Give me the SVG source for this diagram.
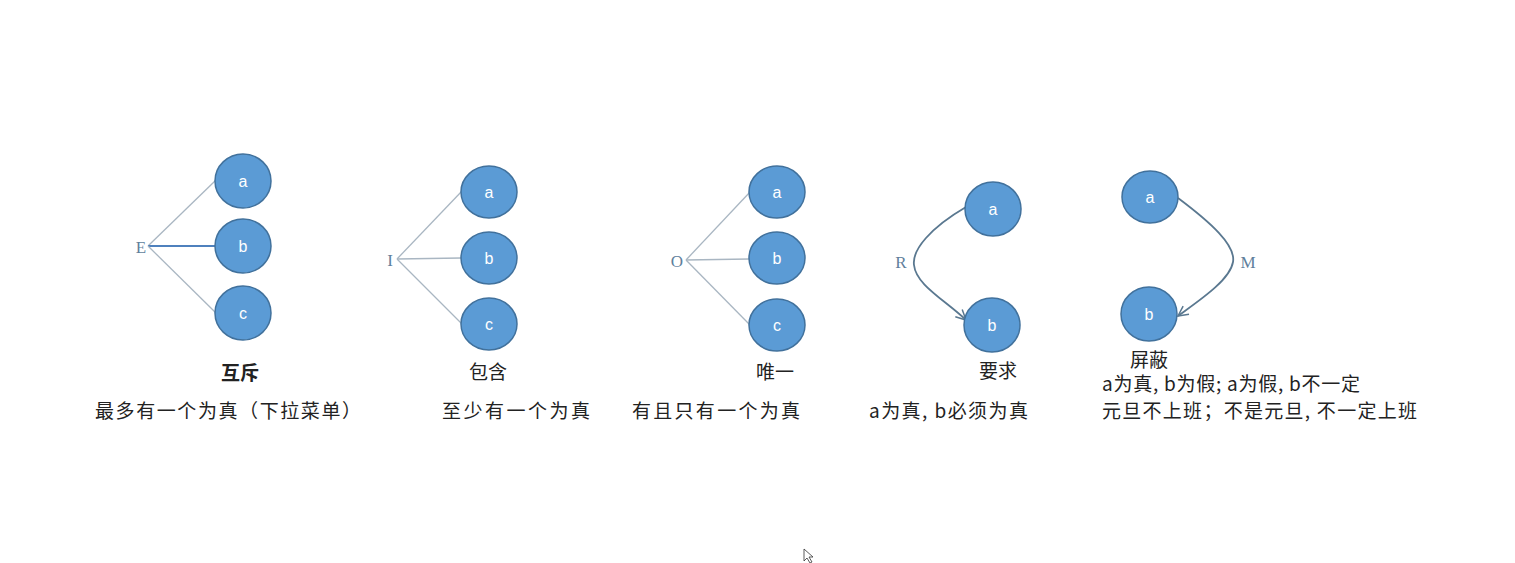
<svg xmlns="http://www.w3.org/2000/svg" width="1515" height="563" viewBox="0 0 1515 563">
<style>
.n{fill:#5b9bd5;stroke:#41719c;stroke-width:1.5}
.nt{font-family:"Liberation Sans",Arial,sans-serif;font-size:16px;fill:#ffffff;text-anchor:middle}
.lb{font-family:"Liberation Serif","Noto Sans CJK SC",serif;font-size:17px;fill:#5f7f9c;text-anchor:middle}
.ln{stroke:#a9b6c2;stroke-width:1.3;fill:none}
.lnb{stroke:#4f81bd;stroke-width:1.8;fill:none}
.cv{stroke:#5a7890;stroke-width:1.8;fill:none}
.t{font-family:"Noto Sans CJK SC",sans-serif;font-size:19px;fill:#222222}
.tc{text-anchor:middle}
</style>
<defs>
<marker id="ah" viewBox="0 0 12 12" refX="11" refY="6" markerWidth="12" markerHeight="12" markerUnits="userSpaceOnUse" orient="auto">
<path d="M1,1 L11,6 L1,11" fill="none" stroke="#5a7890" stroke-width="1.5"/>
</marker>
</defs>
<rect width="1515" height="563" fill="#ffffff"/>
<g id="connectors">
<line class="ln" x1="148" y1="246" x2="216" y2="180"/>
<line class="lnb" x1="148" y1="246" x2="215" y2="246"/>
<line class="ln" x1="148" y1="246" x2="216" y2="313"/>
<line class="ln" x1="397" y1="259" x2="462" y2="191"/>
<line class="ln" x1="397" y1="259" x2="461" y2="258"/>
<line class="ln" x1="397" y1="259" x2="462" y2="324"/>
<line class="ln" x1="686" y1="260" x2="750" y2="192"/>
<line class="ln" x1="686" y1="260" x2="749" y2="259"/>
<line class="ln" x1="686" y1="260" x2="750" y2="325"/>
<path class="cv" d="M966,207 C930,228 912,250 914,265 C916,285 945,300 966,320" marker-end="url(#ah)"/>
<path class="cv" d="M1178,198 C1210,222 1236,245 1233,262 C1230,280 1200,300 1178,316" marker-end="url(#ah)"/>
</g>
<g id="E">
<text class="lb" x="141" y="253">E</text>
<ellipse class="n" cx="243" cy="181" rx="28" ry="27"/><text class="nt" x="243" y="187">a</text>
<ellipse class="n" cx="243" cy="246" rx="28" ry="27"/><text class="nt" x="243" y="252">b</text>
<ellipse class="n" cx="243" cy="313" rx="28" ry="27"/><text class="nt" x="243" y="319">c</text>
<text class="t tc" x="240" y="380" font-weight="bold">互斥</text>
<text class="t" x="95" y="418" textLength="266" lengthAdjust="spacing">最多有一个为真（下拉菜单）</text>
</g>
<g id="I">
<text class="lb" x="390" y="266">I</text>
<ellipse class="n" cx="489" cy="192" rx="28" ry="26"/><text class="nt" x="489" y="198">a</text>
<ellipse class="n" cx="489" cy="258" rx="28" ry="26"/><text class="nt" x="489" y="264">b</text>
<ellipse class="n" cx="489" cy="324" rx="28" ry="26"/><text class="nt" x="489" y="330">c</text>
<text class="t tc" x="488" y="379">包含</text>
<text class="t" x="442" y="418" textLength="148" lengthAdjust="spacing">至少有一个为真</text>
</g>
<g id="O">
<text class="lb" x="677" y="267">O</text>
<ellipse class="n" cx="777" cy="192" rx="28" ry="26"/><text class="nt" x="777" y="198">a</text>
<ellipse class="n" cx="777" cy="258" rx="28" ry="26"/><text class="nt" x="777" y="264">b</text>
<ellipse class="n" cx="777" cy="325" rx="28" ry="26"/><text class="nt" x="777" y="331">c</text>
<text class="t tc" x="775" y="379">唯一</text>
<text class="t" x="632" y="418" textLength="168" lengthAdjust="spacing">有且只有一个为真</text>
</g>
<g id="R">
<text class="lb" x="901" y="268">R</text>
<ellipse class="n" cx="993" cy="209" rx="28" ry="27"/><text class="nt" x="993" y="215">a</text>
<ellipse class="n" cx="992" cy="325" rx="28" ry="27"/><text class="nt" x="992" y="331">b</text>
<text class="t tc" x="998" y="378">要求</text>
<text class="t" x="869" y="418" textLength="159" lengthAdjust="spacing">a为真, b必须为真</text>
</g>
<g id="M">
<text class="lb" x="1248" y="268">M</text>
<ellipse class="n" cx="1150" cy="197" rx="28" ry="26"/><text class="nt" x="1150" y="203">a</text>
<ellipse class="n" cx="1149" cy="314" rx="28" ry="27"/><text class="nt" x="1149" y="320">b</text>
<text class="t tc" x="1149" y="367">屏蔽</text>
<text class="t" x="1102" y="391" textLength="258" lengthAdjust="spacing">a为真, b为假; a为假, b不一定</text>
<text class="t" x="1102" y="418" textLength="315" lengthAdjust="spacing">元旦不上班；不是元旦, 不一定上班</text>
</g>
<path d="M804,549 L804,561 L807,558 L810,563 L812,562 L809,557 L813,557 Z" fill="#ffffff" stroke="#333333" stroke-width="0.8"/>
</svg>
